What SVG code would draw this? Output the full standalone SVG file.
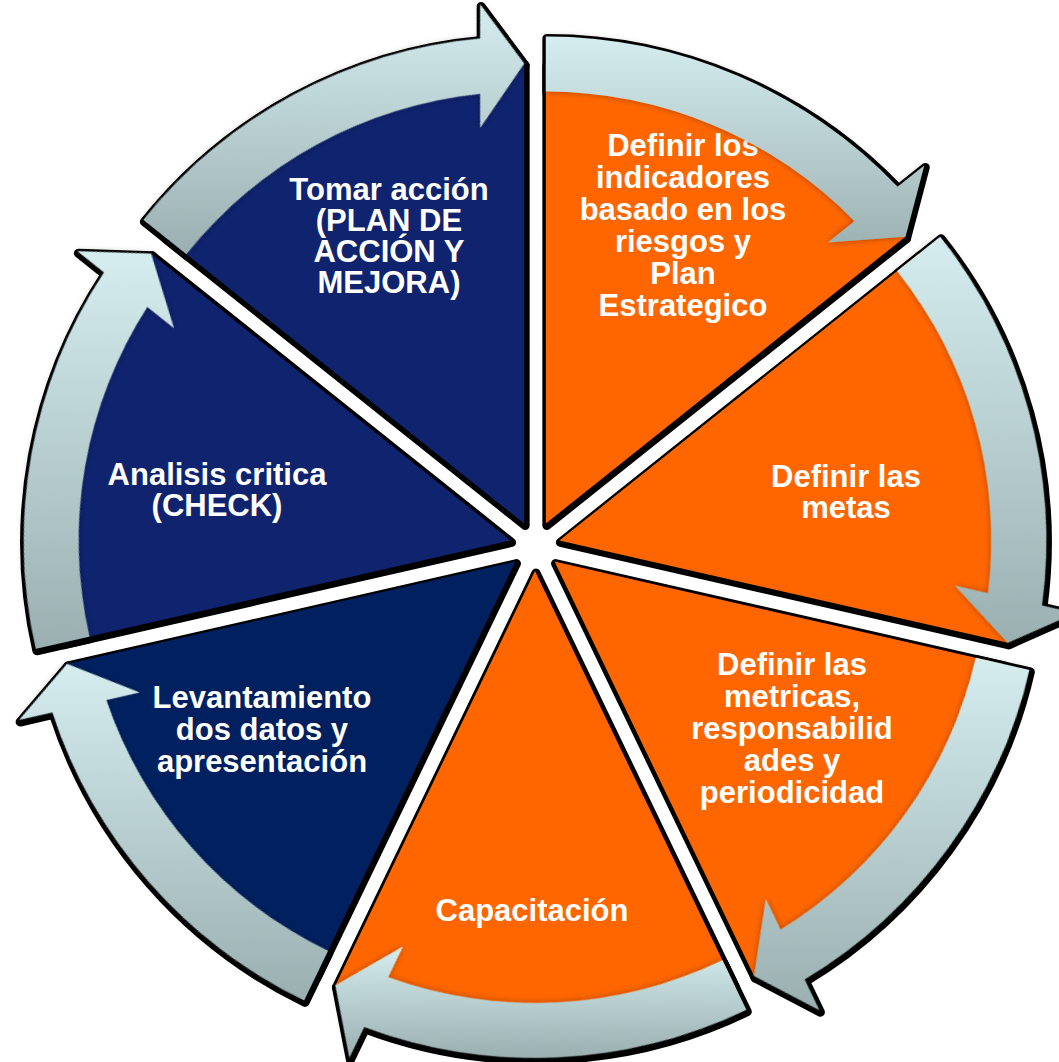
<svg xmlns="http://www.w3.org/2000/svg" width="1059" height="1062" viewBox="0 0 1059 1062">
<defs>
<style>
.sh{fill:#000;stroke:#000;stroke-width:9;stroke-linejoin:round}
.org{fill:#ff6600}
.blu{fill:#10236f}
.dblu{fill:#002060}
.lbl{font-family:"Liberation Sans",Arial,sans-serif;font-weight:bold;font-size:31px;fill:#fff;text-anchor:middle}
.arr{filter:url(#soft)}
</style>
<path id="sector" d="M0,0 L0,-460 A460,460 0 0 1 359.64,-286.81 Z"/>
<path id="arrow" d="M0,-487 A487,487 0 0 1 351.76,-336.79 L378.42,-358.05 L359.64,-286.81 L281.86,-281.05 L308.56,-302.35 A432,432 0 0 0 0,-432 Z"/>
<filter id="soft" x="-20%" y="-20%" width="140%" height="140%"><feDropShadow dx="0" dy="0" stdDeviation="3" flood-color="#000" flood-opacity="0.35"/></filter>
<linearGradient id="g0" gradientUnits="userSpaceOnUse" x1="0" y1="-487" x2="0" y2="-269" gradientTransform="rotate(0)"><stop offset="0" stop-color="#d5edef"/><stop offset="1" stop-color="#9aafb0"/></linearGradient>
<linearGradient id="g1" gradientUnits="userSpaceOnUse" x1="0" y1="-304" x2="0" y2="103" gradientTransform="rotate(-51.4286)"><stop offset="0" stop-color="#d5edef"/><stop offset="1" stop-color="#9aafb0"/></linearGradient>
<linearGradient id="g2" gradientUnits="userSpaceOnUse" x1="0" y1="96" x2="0" y2="449" gradientTransform="rotate(-102.8571)"><stop offset="0" stop-color="#d5edef"/><stop offset="1" stop-color="#9aafb0"/></linearGradient>
<linearGradient id="g3" gradientUnits="userSpaceOnUse" x1="0" y1="375" x2="0" y2="487" gradientTransform="rotate(-154.2857)"><stop offset="0" stop-color="#d5edef"/><stop offset="1" stop-color="#9aafb0"/></linearGradient>
<linearGradient id="g4" gradientUnits="userSpaceOnUse" x1="0" y1="102" x2="0" y2="439" gradientTransform="rotate(-205.7143)"><stop offset="0" stop-color="#d5edef"/><stop offset="1" stop-color="#9aafb0"/></linearGradient>
<linearGradient id="g5" gradientUnits="userSpaceOnUse" x1="0" y1="-289" x2="0" y2="108" gradientTransform="rotate(-257.1429)"><stop offset="0" stop-color="#d5edef"/><stop offset="1" stop-color="#9aafb0"/></linearGradient>
<linearGradient id="g6" gradientUnits="userSpaceOnUse" x1="0" y1="-519" x2="0" y2="-269" gradientTransform="rotate(-308.5714)"><stop offset="0" stop-color="#d5edef"/><stop offset="1" stop-color="#9aafb0"/></linearGradient>
</defs>
<rect width="1059" height="1062" fill="#fff"/>
<g id="shadows" class="sh">
<g transform="translate(546.85,525.48) rotate(0)"><use href="#sector"/><use href="#arrow"/></g>
<g transform="translate(560.37,542.44) rotate(51.4286)"><use href="#sector"/><use href="#arrow"/></g>
<g transform="translate(555.55,563.59) rotate(102.8571)"><use href="#sector"/><use href="#arrow"/></g>
<g transform="translate(536,573) rotate(154.2857)"><use href="#sector"/><use href="#arrow"/></g>
<g transform="translate(516.45,563.59) rotate(205.7143)"><use href="#sector"/><use href="#arrow"/></g>
<g transform="translate(511.63,542.44) rotate(257.1429)"><use href="#sector"/><use href="#arrow"/></g>
<g transform="translate(525.15,525.48) rotate(308.5714)"><use href="#sector"/><use href="#arrow"/></g>
</g>
<g id="nodes">
<g id="node-indicadores">
<use href="#sector" class="org" transform="translate(545.85,523.48) rotate(0)"/>
<text class="lbl"><tspan x="683" y="156">Definir los</tspan><tspan x="683" y="188">indicadores</tspan><tspan x="683" y="220">basado en los</tspan><tspan x="683" y="252">riesgos y</tspan><tspan x="683" y="284">Plan</tspan><tspan x="683" y="316">Estrategico</tspan></text>
</g>
<g id="node-metas">
<use href="#sector" class="org" transform="translate(559.37,540.44) rotate(51.4286)"/>
<text class="lbl"><tspan x="846" y="487">Definir las</tspan><tspan x="846" y="518">metas</tspan></text>
</g>
<g id="node-metricas">
<use href="#sector" class="org" transform="translate(554.55,561.59) rotate(102.8571)"/>
<text class="lbl"><tspan x="792" y="675">Definir las</tspan><tspan x="792" y="707">metricas,</tspan><tspan x="792" y="739">responsabilid</tspan><tspan x="792" y="771">ades y</tspan><tspan x="792" y="803">periodicidad</tspan></text>
</g>
<g id="node-capacitacion">
<use href="#sector" class="org" transform="translate(535,571) rotate(154.2857)"/>
<text class="lbl"><tspan x="532" y="921">Capacitación</tspan></text>
</g>
<g id="node-levantamiento">
<use href="#sector" class="dblu" transform="translate(515.45,561.59) rotate(205.7143)"/>
<text class="lbl"><tspan x="262" y="708">Levantamiento</tspan><tspan x="262" y="740">dos datos y</tspan><tspan x="262" y="772">apresentación</tspan></text>
</g>
<g id="node-analisis">
<use href="#sector" class="blu" transform="translate(510.63,540.44) rotate(257.1429)"/>
<text class="lbl"><tspan x="217" y="485">Analisis critica</tspan><tspan x="217" y="516">(CHECK)</tspan></text>
</g>
<g id="node-tomar">
<use href="#sector" class="blu" transform="translate(524.15,523.48) rotate(308.5714)"/>
<text class="lbl"><tspan x="389" y="200">Tomar acción</tspan><tspan x="389" y="231">(PLAN DE</tspan><tspan x="389" y="262">ACCIÓN Y</tspan><tspan x="389" y="293">MEJORA)</tspan></text>
</g>
</g>
<g id="connectors">
<use href="#arrow" class="arr" fill="url(#g0)" transform="translate(545.85,523.48) rotate(0)"/>
<use href="#arrow" class="arr" fill="url(#g1)" transform="translate(559.37,540.44) rotate(51.4286)"/>
<use href="#arrow" class="arr" fill="url(#g2)" transform="translate(554.55,561.59) rotate(102.8571)"/>
<use href="#arrow" class="arr" fill="url(#g3)" transform="translate(535,571) rotate(154.2857)"/>
<use href="#arrow" class="arr" fill="url(#g4)" transform="translate(515.45,561.59) rotate(205.7143)"/>
<use href="#arrow" class="arr" fill="url(#g5)" transform="translate(510.63,540.44) rotate(257.1429)"/>
<use href="#arrow" class="arr" fill="url(#g6)" transform="translate(524.15,523.48) rotate(308.5714)"/>
</g>
</svg>
